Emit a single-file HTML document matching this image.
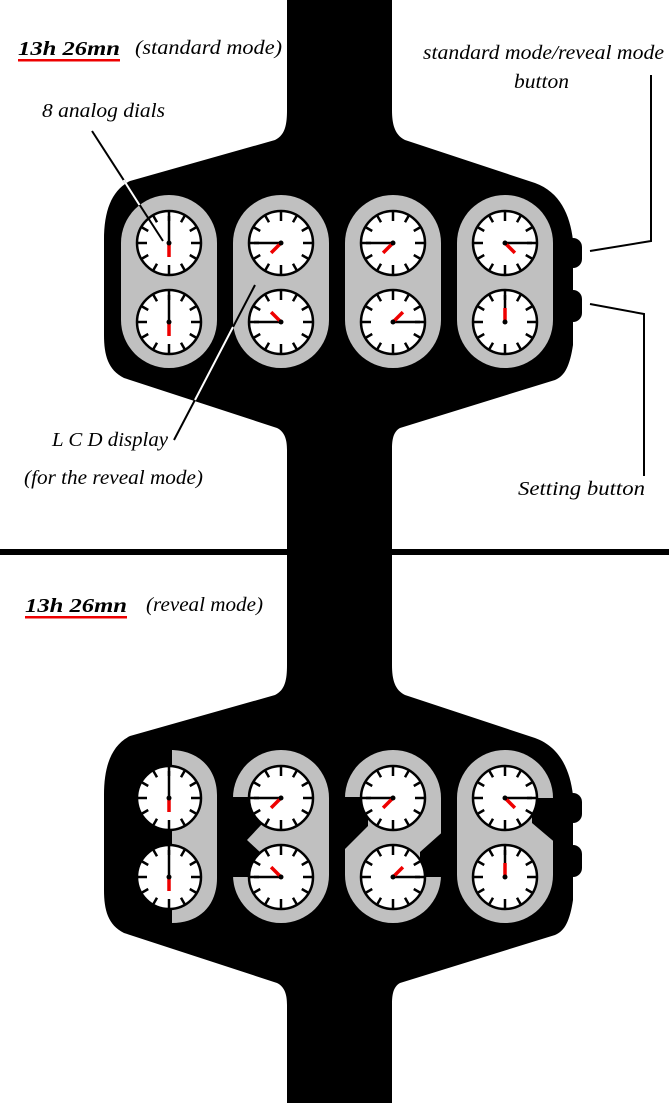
<!DOCTYPE html>
<html><head><meta charset="utf-8"><style>
html,body{margin:0;padding:0;background:#fff;}
svg{display:block;}
text{font-family:"Liberation Serif",serif;font-style:italic;fill:#000;}
</style></head><body>
<svg id="s" width="669" height="1103" viewBox="0 0 669 1103" xmlns="http://www.w3.org/2000/svg">
<defs>
<path id="case" d="M275,140 C285,135 287,125 287,110 L392,110 C392,125 395,135 405,140 L535,183 C560,192 570,215 573,240 L573,345 C570,365 565,376 555,380 L400,428 C393,432 392,440 392,450 L287,450 C287,440 285,432 277,428 L124,378 C108,370 104,355 104,335 L104,240 C104,210 112,190 130,181 Z"/>
</defs>
<rect x="0" y="0" width="669" height="1103" fill="#fff"/>
<g id="top"></g>
<g id="bot"></g>
<rect x="0" y="549" width="669" height="6" fill="#000"/>
<text x="18" y="55" font-size="20" textLength="102" lengthAdjust="spacingAndGlyphs" font-weight="bold">13h 26mn</text>
<rect x="18" y="59" width="102" height="2.5" fill="#e00"/>
<text x="135" y="54" font-size="20" textLength="147" lengthAdjust="spacingAndGlyphs">(standard mode)</text>
<text x="423" y="59" font-size="20" textLength="241" lengthAdjust="spacingAndGlyphs">standard mode/reveal mode</text>
<text x="514" y="88" font-size="20" textLength="55" lengthAdjust="spacingAndGlyphs">button</text>
<text x="42" y="117" font-size="20" textLength="123" lengthAdjust="spacingAndGlyphs">8 analog dials</text>
<text x="52" y="446" font-size="20" textLength="116" lengthAdjust="spacingAndGlyphs">L C D display</text>
<text x="24" y="484" font-size="20" textLength="179" lengthAdjust="spacingAndGlyphs">(for the reveal mode)</text>
<text x="518" y="495" font-size="20" textLength="127" lengthAdjust="spacingAndGlyphs">Setting button</text>
<text x="25" y="612" font-size="20" textLength="102" lengthAdjust="spacingAndGlyphs" font-weight="bold">13h 26mn</text>
<rect x="25" y="616" width="102" height="2.5" fill="#e00"/>
<text x="146" y="611" font-size="20" textLength="117" lengthAdjust="spacingAndGlyphs">(reveal mode)</text>
</svg>
<script>
var NS="http://www.w3.org/2000/svg";
function el(p,tag,a){var e=document.createElementNS(NS,tag);for(var k in a)e.setAttribute(k,a[k]);p.appendChild(e);return e;}
var X=[169,281,393,505];
var hands=[[[0,180],[0,180]],[[270,225],[270,315]],[[270,225],[90,45]],[[90,135],[0,0]]];
function dial(g,cx,cy,h){
 el(g,"circle",{cx:cx,cy:cy,r:32,fill:"#fff",stroke:"#000","stroke-width":2.5});
 for(var i=0;i<12;i++){var a=i*Math.PI/6,r1=(i%3==0)?22:24,r2=31;
  el(g,"line",{x1:cx+r1*Math.sin(a),y1:cy-r1*Math.cos(a),x2:cx+r2*Math.sin(a),y2:cy-r2*Math.cos(a),stroke:"#000","stroke-width":2.5});}
 var b=h[0]*Math.PI/180,r=h[1]*Math.PI/180;
 el(g,"line",{x1:cx,y1:cy,x2:cx+27*Math.sin(b),y2:cy-27*Math.cos(b),stroke:"#000","stroke-width":2.5});
 el(g,"line",{x1:cx,y1:cy,x2:cx+14*Math.sin(r),y2:cy-14*Math.cos(r),stroke:"#e00","stroke-width":3.5});
 el(g,"circle",{cx:cx,cy:cy,r:2.5,fill:"#000"});
}
function panel(g,off,reveal){
 var G=el(g,"g",{transform:"translate(0,"+off+")"});
 el(G,"rect",{x:287,y:reveal?0:-off,width:105,height:reveal?548:549,fill:"#000"});
 el(G,"use",{href:"#case",fill:"#000"});
 el(G,"rect",{x:564,y:238,width:18,height:30,rx:9,fill:"#000"});
 el(G,"rect",{x:564,y:290,width:18,height:32,rx:9,fill:"#000"});
 for(var i=0;i<4;i++){
  if(reveal&&i==0) el(G,"path",{d:"M172,195 L170,195 C200,195 217,215 217,240 L217,323 C217,350 200,368 172,368 Z",fill:"#c0c0c0"});
  else el(G,"rect",{x:X[i]-48,y:195,width:96,height:173,rx:48,fill:"#c0c0c0"});
 }
 if(reveal){
  el(G,"polygon",{points:"230,242 262,242 262,322 230,322",fill:"#000"});
  el(G,"polygon",{points:"262,269 247,285 262,299",fill:"#c0c0c0"});
  el(G,"polygon",{points:"343,242 368,242 368,271 343,296",fill:"#000"});
  el(G,"polygon",{points:"447,273 447,322 420,322 420,297",fill:"#000"});
  el(G,"polygon",{points:"558,243 532,243 532,268 558,290",fill:"#000"});
 }
 for(var i=0;i<4;i++){dial(G,X[i],243,hands[i][0]);dial(G,X[i],322,hands[i][1]);}
}
var s=document.getElementById("s");
panel(document.getElementById("top"),0,false);
panel(document.getElementById("bot"),555,true);
var L=el(s,"g",{});
el(L,"polyline",{points:"590,251 651,241 651,75",fill:"none",stroke:"#000","stroke-width":2});
el(L,"polyline",{points:"590,304 644,314 644,476",fill:"none",stroke:"#000","stroke-width":2});
el(L,"line",{x1:92,y1:131,x2:163,y2:241,stroke:"#000","stroke-width":2});
el(L,"line",{x1:255,y1:285,x2:174,y2:440,stroke:"#000","stroke-width":2});
el(L,"line",{x1:123.6,y1:180,x2:139.5,y2:205,stroke:"#fff","stroke-width":2});
el(L,"line",{x1:233,y1:327,x2:195,y2:400,stroke:"#fff","stroke-width":2});
</script>
</body></html>
